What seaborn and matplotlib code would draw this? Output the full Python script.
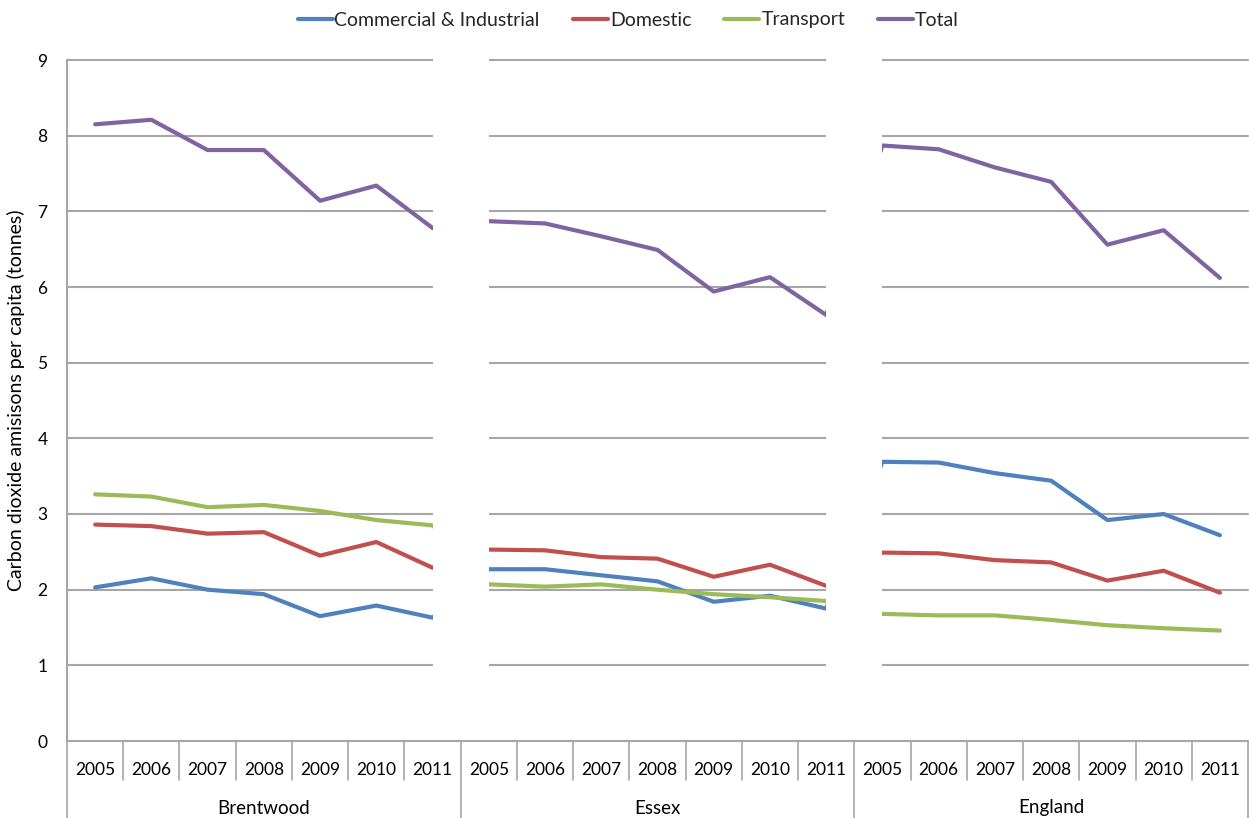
import numpy as np
import pandas as pd
import matplotlib
matplotlib.use("Agg")
import matplotlib.pyplot as plt
import matplotlib.transforms as mtransforms
from matplotlib.patches import Rectangle
import seaborn as sns

# ---- data -------------------------------------------------------------
areas = ["Brentwood", "Essex", "England"]
years = ["2005", "2006", "2007", "2008", "2009", "2010", "2011"]
sectors = ["Commercial & Industrial", "Domestic", "Transport", "Total"]

commercial = [2.03, 2.15, 2.00, 1.94, 1.65, 1.79, 1.63,
              2.27, 2.27, 2.19, 2.11, 1.84, 1.92, 1.75,
              3.69, 3.68, 3.54, 3.44, 2.92, 3.00, 2.72]
domestic = [2.86, 2.84, 2.74, 2.76, 2.45, 2.63, 2.29,
            2.53, 2.52, 2.43, 2.41, 2.17, 2.33, 2.05,
            2.49, 2.48, 2.39, 2.36, 2.12, 2.25, 1.96]
transport = [3.26, 3.23, 3.09, 3.12, 3.04, 2.92, 2.85,
             2.07, 2.04, 2.07, 2.00, 1.94, 1.90, 1.85,
             1.68, 1.66, 1.66, 1.60, 1.53, 1.49, 1.46]
total = [8.15, 8.21, 7.81, 7.81, 7.14, 7.34, 6.78,
         6.87, 6.84, 6.67, 6.49, 5.94, 6.13, 5.63,
         7.87, 7.82, 7.58, 7.39, 6.56, 6.75, 6.12]

colors = ["#4F81BD", "#C0504D", "#9BBB59", "#8064A2"]

# ---- long-form table --------------------------------------------------
n_years = len(years)
n_cats = len(areas) * n_years
records = []
for name, vals in zip(sectors, [commercial, domestic, transport, total]):
    for i, v in enumerate(vals):
        records.append({"pos": i, "sector": name, "value": v})
df = pd.DataFrame(records)

# ---- figure -----------------------------------------------------------
sns.set_style("white")
plt.rcParams["font.family"] = ["Lato", "DejaVu Sans"]

W, H, DPI = 1249, 818, 100
fig = plt.figure(figsize=(W / DPI, H / DPI), dpi=DPI)
left, right, top, bottom = 67, 1248, 60, 741
ax = fig.add_axes([left / W, (H - bottom) / H, (right - left) / W, (bottom - top) / H])

grid_c = "#A6A6A6"
text_c = "#000000"

sns.lineplot(data=df, x="pos", y="value", hue="sector", hue_order=sectors,
             palette=colors, linewidth=3.0, ax=ax, zorder=3,
             solid_capstyle="round", solid_joinstyle="round", legend=True)

ax.set_xlim(-0.5, n_cats - 0.5)
ax.set_ylim(0, 9)
ax.set_yticks(range(0, 10))
ax.set_yticklabels([str(v) for v in range(0, 10)], fontsize=12.5, color=text_c)

# horizontal gridlines
for yv in range(1, 10):
    ax.axhline(yv, color=grid_c, lw=1.5, zorder=1, clip_on=False)

# white bands separating the three areas
for b in range(1, len(areas)):
    x0 = b * n_years - 1
    ax.add_patch(Rectangle((x0, 0.03), 1, 9.1, facecolor="white",
                           edgecolor="none", zorder=4, clip_on=False))

# spines
for s in ["top", "right"]:
    ax.spines[s].set_visible(False)
for s in ["left", "bottom"]:
    ax.spines[s].set_color(grid_c)
    ax.spines[s].set_linewidth(1.5)
    ax.spines[s].set_zorder(5)

ax.tick_params(axis="y", length=5, width=1.2, color=grid_c, pad=9, direction="out")
ax.tick_params(axis="x", length=0, labelbottom=False)
ax.set_xlabel("")
ax.set_ylabel("Carbon dioxide amisisons per capita (tonnes)", fontsize=14,
              color=text_c, labelpad=9)

# multi-level category axis
trans = mtransforms.blended_transform_factory(ax.transData, fig.transFigure)
y_axis = (H - bottom) / H
y_year_div = (H - 780) / H
y_year_txt = (H - 770) / H
y_area_txt = (H - 808) / H
for k in range(n_cats + 1):
    xb = k - 0.5
    y_end = 0.0 if k % n_years == 0 else y_year_div
    ax.plot([xb, xb], [y_axis, y_end], transform=trans, color=grid_c,
            lw=1.2, clip_on=False, zorder=5)
for i in range(n_cats):
    ax.text(i, y_year_txt, years[i % n_years], transform=trans, ha="center",
            va="center", fontsize=12.5, color=text_c)
for a, name in enumerate(areas):
    xc = a * n_years + (n_years - 1) / 2
    ax.text(xc, y_area_txt, name, transform=trans, ha="center", va="center",
            fontsize=13.5, color=text_c)

# legend across the top
handles, labels = ax.get_legend_handles_labels()
ax.get_legend().remove()
for h in handles:
    h.set_linewidth(3.0)
fig.legend(handles, labels, loc="center", bbox_to_anchor=(0.503, 1 - 20 / H),
           ncol=4, frameon=False, fontsize=14, handlelength=1.8,
           handletextpad=0.1, columnspacing=1.7)

fig.savefig("out.png", dpi=DPI)
